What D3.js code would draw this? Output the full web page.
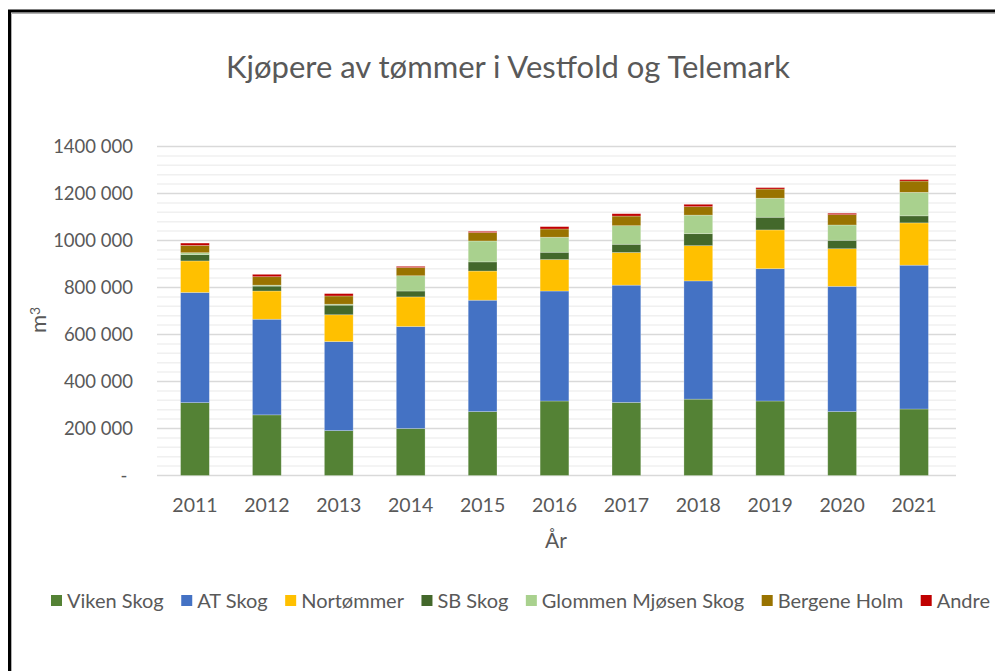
<!DOCTYPE html>
<html>
<head>
<meta charset="utf-8">
<script src="https://cdn.jsdelivr.net/npm/d3@7"></script>
<style>
  body { margin: 0; background: #fff; }
  svg { display: block; font-family: Lato, "Noto Sans", sans-serif; }
</style>
</head>
<body>
<div id="chart"></div>
<script>
var years = ["2011","2012","2013","2014","2015","2016","2017","2018","2019","2020","2021"];
var buyers = ["Viken Skog","AT Skog","Nortømmer","SB Skog","Glommen Mjøsen Skog","Bergene Holm","Andre"];
var vikenSkog   = [310000,258000,191000,200000,272000,317000,311000,325000,317000,272000,283000];
var atSkog      = [469000,407000,379000,434000,474000,468000,499000,503000,563000,533000,612000];
var nortommer   = [134000,120000,114000,126000,124000,134000,139000,150000,165000,160000,180000];
var sbSkog      = [27000,21000,41000,25000,39000,31000,35000,51000,54000,36000,30000];
var glommen     = [8000,4000,4000,65000,89000,64000,79000,79000,81000,65000,100000];
var bergeneHolm = [31000,36000,35000,35000,36000,35000,41000,36000,39000,44000,48000];
var andre       = [10000,10000,10000,5000,5000,10000,10000,10000,6000,6000,6000];
var yTicks = [0,200000,400000,600000,800000,1000000,1200000,1400000];
var yTickLabels = ["-","200 000","400 000","600 000","800 000","1000 000","1200 000","1400 000"];
var colors = ["#548235","#4472C4","#FFC000","#43682B","#A9D18E","#997300","#C00000"];

var seriesValues = [vikenSkog, atSkog, nortommer, sbSkog, glommen, bergeneHolm, andre];
var rows = years.map(function(y, i){
    var r = {year: y};
    buyers.forEach(function(b, j){ r[b] = seriesValues[j][i]; });
    return r;
});

var W = 995, H = 671;
var svg = d3.select('#chart').append('svg')
    .attr('width', W).attr('height', H);

// frame (chart is cropped on right/bottom)
svg.append('path').attr('d', 'M11.5,671 V13.5 H995').attr('fill','none').attr('stroke','#b0b0b0').attr('stroke-width',1);
svg.append('path').attr('d', 'M9.5,671 V11 H995').attr('fill','none').attr('stroke','#000').attr('stroke-width',3);

var x = d3.scaleBand().domain(years).range([159, 950]).paddingInner(0.6).paddingOuter(0.3);
var y = d3.scaleLinear().domain([0, 1400000]).range([475.5, 146.5]);

// minor grid
svg.append('g').selectAll('line')
    .data(d3.range(40000, 1400000, 40000).filter(function(v){ return v % 200000 != 0; }))
    .enter().append('line')
    .attr('x1', 157).attr('x2', 956)
    .attr('y1', function(d){ return y(d); }).attr('y2', function(d){ return y(d); })
    .attr('stroke', '#f0f0f0').attr('stroke-width', 1.5);

// major grid
svg.append('g').selectAll('line')
    .data(yTicks)
    .enter().append('line')
    .attr('x1', 157).attr('x2', 956)
    .attr('y1', function(d){ return y(d); }).attr('y2', function(d){ return y(d); })
    .attr('stroke', '#d9d9d9').attr('stroke-width', 1.5);

// y tick labels
svg.append('g').selectAll('text')
    .data(yTicks)
    .enter().append('text')
    .attr('x', function(d, i){ return i == 0 ? 124 : 133; })
    .attr('y', function(d){ return y(d); })
    .attr('dy', '0.35em')
    .attr('text-anchor', function(d, i){ return i == 0 ? 'middle' : 'end'; })
    .attr('font-size', '18.5px').attr('fill', '#595959')
    .text(function(d, i){ return yTickLabels[i]; });

// bars
var stack = d3.stack().keys(buyers);
var layers = stack(rows);
svg.append('g').selectAll('g')
    .data(layers)
    .enter().append('g')
    .attr('fill', function(d, i){ return colors[i]; })
    .selectAll('rect')
    .data(function(d){ return d; })
    .enter().append('rect')
    .attr('x', function(d){ return x(d.data.year); })
    .attr('width', x.bandwidth())
    .attr('y', function(d){ return y(d[1]); })
    .attr('height', function(d){ return y(d[0]) - y(d[1]); })
    .attr('stroke', '#ffffff').attr('stroke-opacity', 0.35).attr('stroke-width', 0.7);

// x labels
svg.append('g').selectAll('text')
    .data(years)
    .enter().append('text')
    .attr('x', function(d){ return x(d) + x.bandwidth()/2; })
    .attr('y', 512)
    .attr('text-anchor', 'middle')
    .attr('font-size', '19.5px').attr('fill', '#595959')
    .text(function(d){ return d; });

// axis titles
svg.append('text').attr('x', 556).attr('y', 548).attr('text-anchor','middle')
    .attr('font-size','21px').attr('fill','#595959').text('År');
var yt = svg.append('text').attr('transform','translate(46,320) rotate(-90)')
    .attr('text-anchor','middle').attr('font-size','22px').attr('fill','#595959');
yt.append('tspan').text('m');
yt.append('tspan').attr('dy','-0.45em').attr('font-size','14px').text('3');

// title
svg.append('text').attr('x', 508).attr('y', 78).attr('text-anchor','middle')
    .attr('font-size','31px').attr('fill','#595959')
    .text('Kjøpere av tømmer i Vestfold og Telemark');

// legend: fit between x=51 and x=990
var legend = svg.append('g');
var items = buyers.map(function(b, i){
    var g = legend.append('g');
    g.append('rect').attr('x', 0).attr('y', 595).attr('width', 11).attr('height', 11).attr('fill', colors[i]);
    var t = g.append('text').attr('x', 16).attr('y', 608)
        .attr('font-size','20px').attr('fill','#595959').text(b);
    return {g: g, w: 16 + t.node().getComputedTextLength()};
});
var totalW = d3.sum(items, function(d){ return d.w; });
var gap = (990 - 51 - totalW) / (items.length - 1);
var lx = 51;
items.forEach(function(it){
    it.g.attr('transform', 'translate(' + lx + ',0)');
    lx += it.w + gap;
});
</script>
</body>
</html>
